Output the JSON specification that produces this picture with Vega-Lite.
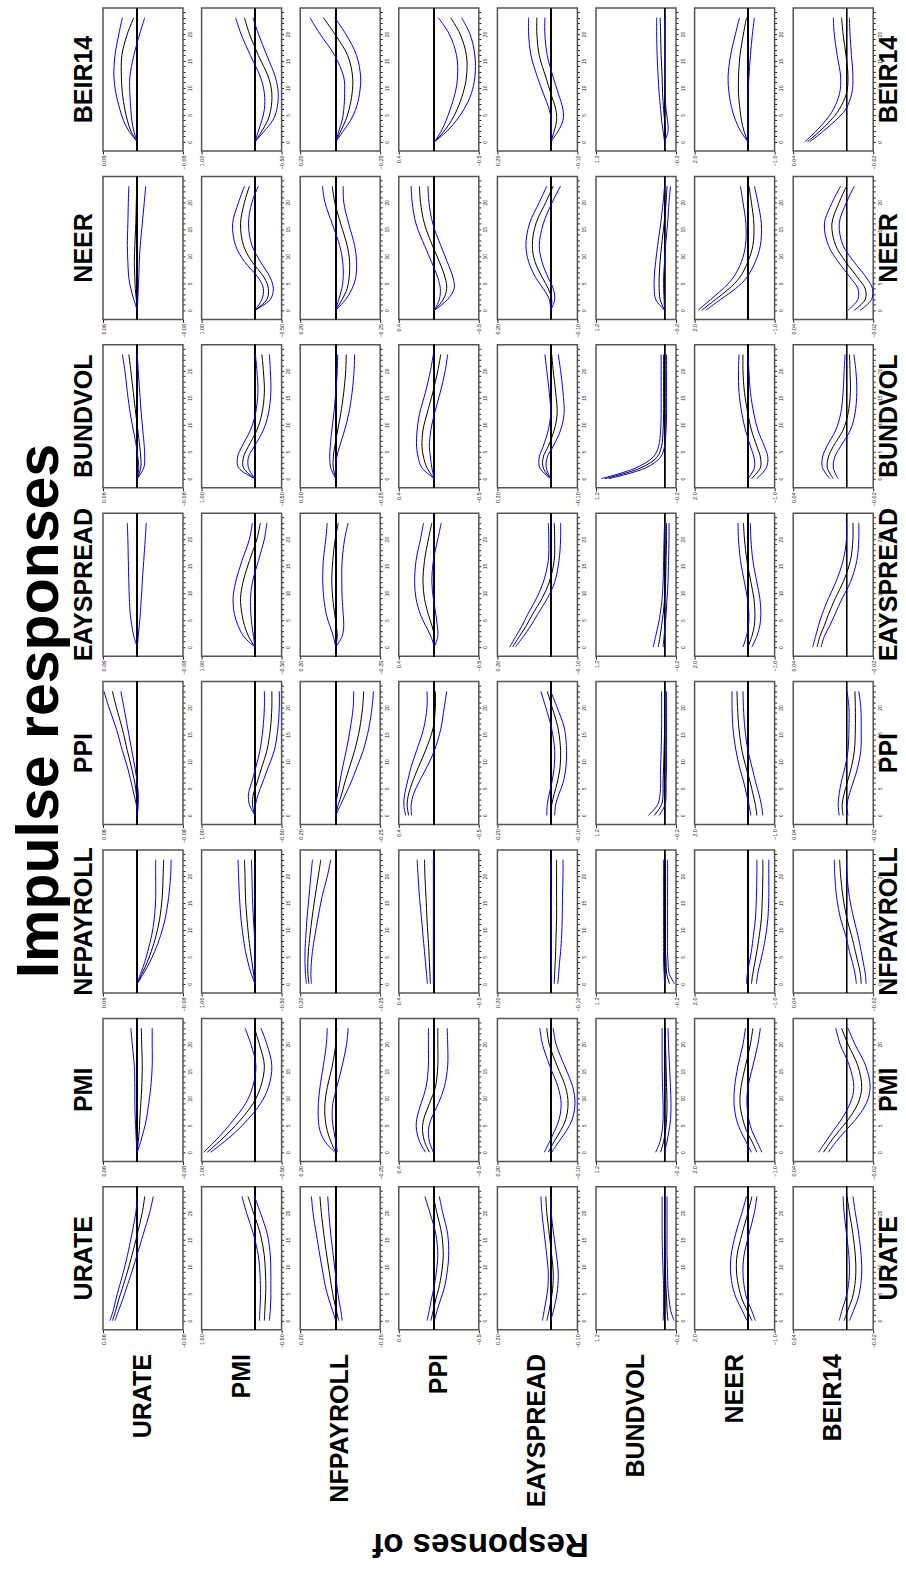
{
  "$schema": "https://vega.github.io/schema/vega-lite/v6.json",
  "padding": {"left": 10, "top": 6, "right": 0, "bottom": 0},
  "config": {
    "font": "Liberation Sans",
    "view": {"stroke": "#555555", "strokeWidth": 1.5},
    "axis": {"labelFont": "Liberation Sans", "labelFontSize": 5.5, "labelColor": "#222222", "tickColor": "#222222", "domain": false, "grid": false, "title": null, "labelOverlap": false, "labelFlush": false, "labelBound": false},
    "header": {"labelFont": "Liberation Sans", "labelFontSize": 25, "labelFontWeight": "bold", "labelColor": "black"}
  },
  "data": {"values": [
    {"s":"BEIR14","r":"URATE","h":0,"m":0,"l":0,"u":0},
    {"s":"BEIR14","r":"URATE","h":2,"m":0.0113,"l":0.0061,"u":0.0148},
    {"s":"BEIR14","r":"URATE","h":4,"m":0.0174,"l":0.0096,"u":0.0244},
    {"s":"BEIR14","r":"URATE","h":6,"m":0.0217,"l":0.0113,"u":0.0304},
    {"s":"BEIR14","r":"URATE","h":9,"m":0.0261,"l":0.0130,"u":0.0374},
    {"s":"BEIR14","r":"URATE","h":12,"m":0.0278,"l":0.0130,"u":0.0409},
    {"s":"BEIR14","r":"URATE","h":16,"m":0.0270,"l":0.0061,"u":0.0391},
    {"s":"BEIR14","r":"URATE","h":20,"m":0.0174,"l":-0.0043,"u":0.0322},
    {"s":"BEIR14","r":"URATE","h":23,"m":0.0061,"l":-0.0130,"u":0.0261},
    {"s":"BEIR14","r":"PMI","h":0,"m":0,"l":0,"u":0},
    {"s":"BEIR14","r":"PMI","h":2,"m":-0.130,"l":-0.177,"u":-0.065},
    {"s":"BEIR14","r":"PMI","h":4,"m":-0.242,"l":-0.335,"u":-0.130},
    {"s":"BEIR14","r":"PMI","h":6,"m":-0.298,"l":-0.410,"u":-0.177},
    {"s":"BEIR14","r":"PMI","h":9,"m":-0.317,"l":-0.438,"u":-0.177},
    {"s":"BEIR14","r":"PMI","h":12,"m":-0.252,"l":-0.382,"u":-0.103},
    {"s":"BEIR14","r":"PMI","h":16,"m":-0.065,"l":-0.224,"u":0.084},
    {"s":"BEIR14","r":"PMI","h":20,"m":0.103,"l":-0.065,"u":0.261},
    {"s":"BEIR14","r":"PMI","h":23,"m":0.196,"l":0.037,"u":0.363},
    {"s":"BEIR14","r":"NFPAYROLL","h":0,"m":0,"l":0,"u":0},
    {"s":"BEIR14","r":"NFPAYROLL","h":2,"m":-0.028,"l":-0.042,"u":-0.017},
    {"s":"BEIR14","r":"NFPAYROLL","h":4,"m":-0.056,"l":-0.084,"u":-0.036},
    {"s":"BEIR14","r":"NFPAYROLL","h":6,"m":-0.075,"l":-0.112,"u":-0.045},
    {"s":"BEIR14","r":"NFPAYROLL","h":9,"m":-0.092,"l":-0.134,"u":-0.050},
    {"s":"BEIR14","r":"NFPAYROLL","h":12,"m":-0.095,"l":-0.140,"u":-0.045},
    {"s":"BEIR14","r":"NFPAYROLL","h":16,"m":-0.067,"l":-0.117,"u":0.006},
    {"s":"BEIR14","r":"NFPAYROLL","h":20,"m":0.006,"l":-0.056,"u":0.089},
    {"s":"BEIR14","r":"NFPAYROLL","h":23,"m":0.070,"l":0.006,"u":0.145},
    {"s":"BEIR14","r":"PPI","h":0,"m":0,"l":0,"u":0},
    {"s":"BEIR14","r":"PPI","h":2,"m":-0.111,"l":-0.144,"u":-0.078},
    {"s":"BEIR14","r":"PPI","h":4,"m":-0.194,"l":-0.250,"u":-0.133},
    {"s":"BEIR14","r":"PPI","h":6,"m":-0.256,"l":-0.333,"u":-0.178},
    {"s":"BEIR14","r":"PPI","h":9,"m":-0.322,"l":-0.417,"u":-0.233},
    {"s":"BEIR14","r":"PPI","h":12,"m":-0.361,"l":-0.456,"u":-0.261},
    {"s":"BEIR14","r":"PPI","h":16,"m":-0.361,"l":-0.456,"u":-0.250},
    {"s":"BEIR14","r":"PPI","h":20,"m":-0.289,"l":-0.400,"u":-0.167},
    {"s":"BEIR14","r":"PPI","h":23,"m":-0.183,"l":-0.306,"u":-0.044},
    {"s":"BEIR14","r":"EAYSPREAD","h":0,"m":0,"l":0,"u":0},
    {"s":"BEIR14","r":"EAYSPREAD","h":2,"m":-0.013,"l":-0.028,"u":-0.002},
    {"s":"BEIR14","r":"EAYSPREAD","h":4,"m":-0.022,"l":-0.046,"u":-0.002},
    {"s":"BEIR14","r":"EAYSPREAD","h":6,"m":-0.019,"l":-0.046,"u":0.0056},
    {"s":"BEIR14","r":"EAYSPREAD","h":9,"m":0,"l":-0.028,"u":0.028},
    {"s":"BEIR14","r":"EAYSPREAD","h":12,"m":0.0185,"l":-0.009,"u":0.050},
    {"s":"BEIR14","r":"EAYSPREAD","h":16,"m":0.043,"l":0.013,"u":0.074},
    {"s":"BEIR14","r":"EAYSPREAD","h":20,"m":0.052,"l":0.022,"u":0.083},
    {"s":"BEIR14","r":"EAYSPREAD","h":23,"m":0.052,"l":0.022,"u":0.083},
    {"s":"BEIR14","r":"BUNDVOL","h":0,"m":0,"l":0,"u":0},
    {"s":"BEIR14","r":"BUNDVOL","h":2,"m":-0.017,"l":-0.060,"u":0.026},
    {"s":"BEIR14","r":"BUNDVOL","h":4,"m":0,"l":-0.052,"u":0.052},
    {"s":"BEIR14","r":"BUNDVOL","h":6,"m":0.017,"l":-0.026,"u":0.069},
    {"s":"BEIR14","r":"BUNDVOL","h":9,"m":0.035,"l":-0.009,"u":0.095},
    {"s":"BEIR14","r":"BUNDVOL","h":12,"m":0.043,"l":0,"u":0.112},
    {"s":"BEIR14","r":"BUNDVOL","h":16,"m":0.060,"l":0,"u":0.130},
    {"s":"BEIR14","r":"BUNDVOL","h":20,"m":0.069,"l":0,"u":0.138},
    {"s":"BEIR14","r":"BUNDVOL","h":23,"m":0.078,"l":0,"u":0.138},
    {"s":"BEIR14","r":"NEER","h":0,"m":0,"l":0,"u":0},
    {"s":"BEIR14","r":"NEER","h":2,"m":0.149,"l":0,"u":0.279},
    {"s":"BEIR14","r":"NEER","h":4,"m":0.242,"l":0,"u":0.466},
    {"s":"BEIR14","r":"NEER","h":6,"m":0.298,"l":0,"u":0.596},
    {"s":"BEIR14","r":"NEER","h":9,"m":0.354,"l":0,"u":0.708},
    {"s":"BEIR14","r":"NEER","h":12,"m":0.354,"l":-0.037,"u":0.745},
    {"s":"BEIR14","r":"NEER","h":16,"m":0.298,"l":-0.093,"u":0.652},
    {"s":"BEIR14","r":"NEER","h":20,"m":0.168,"l":-0.168,"u":0.466},
    {"s":"BEIR14","r":"NEER","h":23,"m":0.056,"l":-0.242,"u":0.317},
    {"s":"BEIR14","r":"BEIR14","h":0,"m":0.0294,"l":0.0276,"u":0.0313},
    {"s":"BEIR14","r":"BEIR14","h":2,"m":0.0199,"l":0.0173,"u":0.0228},
    {"s":"BEIR14","r":"BEIR14","h":4,"m":0.0118,"l":0.0081,"u":0.0155},
    {"s":"BEIR14","r":"BEIR14","h":6,"m":0.0055,"l":0.0007,"u":0.0099},
    {"s":"BEIR14","r":"BEIR14","h":9,"m":0,"l":-0.0040,"u":0.0052},
    {"s":"BEIR14","r":"BEIR14","h":12,"m":-0.0011,"l":-0.0048,"u":0.0044},
    {"s":"BEIR14","r":"BEIR14","h":16,"m":0.0004,"l":-0.0037,"u":0.0070},
    {"s":"BEIR14","r":"BEIR14","h":20,"m":0.0026,"l":-0.0026,"u":0.0092},
    {"s":"BEIR14","r":"BEIR14","h":23,"m":0.0037,"l":-0.0022,"u":0.0099},

    {"s":"NEER","r":"URATE","h":0,"m":0,"l":0,"u":0},
    {"s":"NEER","r":"URATE","h":2,"m":0.0017,"l":-0.0009,"u":0.0061},
    {"s":"NEER","r":"URATE","h":4,"m":0.0035,"l":-0.0017,"u":0.0113},
    {"s":"NEER","r":"URATE","h":6,"m":0.0043,"l":-0.0026,"u":0.0148},
    {"s":"NEER","r":"URATE","h":9,"m":0.0052,"l":-0.0035,"u":0.0165},
    {"s":"NEER","r":"URATE","h":12,"m":0.0043,"l":-0.0052,"u":0.0174},
    {"s":"NEER","r":"URATE","h":16,"m":0.0026,"l":-0.0087,"u":0.0165},
    {"s":"NEER","r":"URATE","h":20,"m":0.0017,"l":-0.0122,"u":0.0157},
    {"s":"NEER","r":"URATE","h":23,"m":0.0009,"l":-0.0148,"u":0.0148},
    {"s":"NEER","r":"PMI","h":0,"m":0,"l":0,"u":0},
    {"s":"NEER","r":"PMI","h":2,"m":-0.224,"l":-0.289,"u":-0.130},
    {"s":"NEER","r":"PMI","h":4,"m":-0.252,"l":-0.345,"u":-0.159},
    {"s":"NEER","r":"PMI","h":6,"m":-0.177,"l":-0.289,"u":-0.065},
    {"s":"NEER","r":"PMI","h":9,"m":0.056,"l":-0.103,"u":0.196},
    {"s":"NEER","r":"PMI","h":12,"m":0.214,"l":0.056,"u":0.363},
    {"s":"NEER","r":"PMI","h":16,"m":0.270,"l":0.121,"u":0.419},
    {"s":"NEER","r":"PMI","h":20,"m":0.196,"l":0.056,"u":0.307},
    {"s":"NEER","r":"PMI","h":23,"m":0.103,"l":-0.065,"u":0.196},
    {"s":"NEER","r":"NFPAYROLL","h":0,"m":0,"l":0,"u":0},
    {"s":"NEER","r":"NFPAYROLL","h":2,"m":-0.036,"l":-0.056,"u":-0.017},
    {"s":"NEER","r":"NFPAYROLL","h":4,"m":-0.064,"l":-0.092,"u":-0.034},
    {"s":"NEER","r":"NFPAYROLL","h":6,"m":-0.075,"l":-0.112,"u":-0.042},
    {"s":"NEER","r":"NFPAYROLL","h":9,"m":-0.078,"l":-0.117,"u":-0.039},
    {"s":"NEER","r":"NFPAYROLL","h":12,"m":-0.064,"l":-0.106,"u":-0.022},
    {"s":"NEER","r":"NFPAYROLL","h":16,"m":-0.028,"l":-0.073,"u":0.0196},
    {"s":"NEER","r":"NFPAYROLL","h":20,"m":0.0056,"l":-0.045,"u":0.061},
    {"s":"NEER","r":"NFPAYROLL","h":23,"m":0.0196,"l":-0.042,"u":0.075},
    {"s":"NEER","r":"PPI","h":0,"m":0,"l":0,"u":0},
    {"s":"NEER","r":"PPI","h":2,"m":-0.100,"l":-0.150,"u":-0.056},
    {"s":"NEER","r":"PPI","h":4,"m":-0.139,"l":-0.222,"u":-0.067},
    {"s":"NEER","r":"PPI","h":6,"m":-0.122,"l":-0.211,"u":-0.039},
    {"s":"NEER","r":"PPI","h":9,"m":-0.056,"l":-0.144,"u":0.033},
    {"s":"NEER","r":"PPI","h":12,"m":0.022,"l":-0.072,"u":0.111},
    {"s":"NEER","r":"PPI","h":16,"m":0.111,"l":0.017,"u":0.206},
    {"s":"NEER","r":"PPI","h":20,"m":0.156,"l":0.061,"u":0.250},
    {"s":"NEER","r":"PPI","h":23,"m":0.167,"l":0.072,"u":0.261},
    {"s":"NEER","r":"EAYSPREAD","h":0,"m":0,"l":0,"u":0},
    {"s":"NEER","r":"EAYSPREAD","h":2,"m":-0.0037,"l":-0.015,"u":0.0056},
    {"s":"NEER","r":"EAYSPREAD","h":4,"m":0.0093,"l":-0.0093,"u":0.028},
    {"s":"NEER","r":"EAYSPREAD","h":6,"m":0.031,"l":0.0093,"u":0.056},
    {"s":"NEER","r":"EAYSPREAD","h":9,"m":0.059,"l":0.033,"u":0.083},
    {"s":"NEER","r":"EAYSPREAD","h":12,"m":0.069,"l":0.043,"u":0.093},
    {"s":"NEER","r":"EAYSPREAD","h":16,"m":0.056,"l":0.028,"u":0.080},
    {"s":"NEER","r":"EAYSPREAD","h":20,"m":0.0185,"l":-0.0056,"u":0.043},
    {"s":"NEER","r":"EAYSPREAD","h":23,"m":-0.0093,"l":-0.037,"u":0.0148},
    {"s":"NEER","r":"BUNDVOL","h":0,"m":0,"l":0,"u":0},
    {"s":"NEER","r":"BUNDVOL","h":2,"m":0.078,"l":0.0086,"u":0.156},
    {"s":"NEER","r":"BUNDVOL","h":4,"m":0.095,"l":0.017,"u":0.181},
    {"s":"NEER","r":"BUNDVOL","h":6,"m":0.095,"l":0.017,"u":0.181},
    {"s":"NEER","r":"BUNDVOL","h":9,"m":0.078,"l":0,"u":0.156},
    {"s":"NEER","r":"BUNDVOL","h":12,"m":0.052,"l":-0.017,"u":0.121},
    {"s":"NEER","r":"BUNDVOL","h":16,"m":0.0086,"l":-0.052,"u":0.069},
    {"s":"NEER","r":"BUNDVOL","h":20,"m":-0.026,"l":-0.078,"u":0.026},
    {"s":"NEER","r":"BUNDVOL","h":23,"m":-0.043,"l":-0.104,"u":0},
    {"s":"NEER","r":"NEER","h":0,"m":1.733,"l":1.584,"u":1.863},
    {"s":"NEER","r":"NEER","h":2,"m":1.211,"l":1.025,"u":1.397},
    {"s":"NEER","r":"NEER","h":4,"m":0.708,"l":0.466,"u":0.931},
    {"s":"NEER","r":"NEER","h":6,"m":0.317,"l":0.056,"u":0.559},
    {"s":"NEER","r":"NEER","h":9,"m":0,"l":-0.279,"u":0.242},
    {"s":"NEER","r":"NEER","h":12,"m":-0.186,"l":-0.466,"u":0.093},
    {"s":"NEER","r":"NEER","h":16,"m":-0.224,"l":-0.503,"u":0.075},
    {"s":"NEER","r":"NEER","h":20,"m":-0.130,"l":-0.373,"u":0.186},
    {"s":"NEER","r":"NEER","h":23,"m":-0.037,"l":-0.242,"u":0.279},
    {"s":"NEER","r":"BEIR14","h":0,"m":-0.0059,"l":-0.0103,"u":-0.0011},
    {"s":"NEER","r":"BEIR14","h":2,"m":-0.0140,"l":-0.0188,"u":-0.0085},
    {"s":"NEER","r":"BEIR14","h":4,"m":-0.0140,"l":-0.0195,"u":-0.0085},
    {"s":"NEER","r":"BEIR14","h":6,"m":-0.0085,"l":-0.0150,"u":-0.0030},
    {"s":"NEER","r":"BEIR14","h":9,"m":0.0007,"l":-0.0055,"u":0.0063},
    {"s":"NEER","r":"BEIR14","h":12,"m":0.0081,"l":0.0026,"u":0.0136},
    {"s":"NEER","r":"BEIR14","h":16,"m":0.0110,"l":0.0055,"u":0.0166},
    {"s":"NEER","r":"BEIR14","h":20,"m":0.0055,"l":0,"u":0.0107},
    {"s":"NEER","r":"BEIR14","h":23,"m":0,"l":-0.0059,"u":0.0044},

    {"s":"BUNDVOL","r":"URATE","h":0,"m":0,"l":0,"u":0},
    {"s":"BUNDVOL","r":"URATE","h":2,"m":-0.0061,"l":-0.0113,"u":-0.0026},
    {"s":"BUNDVOL","r":"URATE","h":4,"m":-0.0061,"l":-0.0130,"u":-0.0009},
    {"s":"BUNDVOL","r":"URATE","h":6,"m":-0.0043,"l":-0.0122,"u":0.0017},
    {"s":"BUNDVOL","r":"URATE","h":9,"m":-0.0009,"l":-0.0096,"u":0.0070},
    {"s":"BUNDVOL","r":"URATE","h":12,"m":0.0026,"l":-0.0070,"u":0.0122},
    {"s":"BUNDVOL","r":"URATE","h":16,"m":0.0070,"l":-0.0043,"u":0.0174},
    {"s":"BUNDVOL","r":"URATE","h":20,"m":0.0113,"l":-0.0017,"u":0.0217},
    {"s":"BUNDVOL","r":"URATE","h":23,"m":0.0148,"l":0,"u":0.0261},
    {"s":"BUNDVOL","r":"PMI","h":0,"m":0,"l":0,"u":0},
    {"s":"BUNDVOL","r":"PMI","h":2,"m":0.214,"l":0.121,"u":0.307},
    {"s":"BUNDVOL","r":"PMI","h":4,"m":0.214,"l":0.121,"u":0.326},
    {"s":"BUNDVOL","r":"PMI","h":6,"m":0.121,"l":0.0093,"u":0.242},
    {"s":"BUNDVOL","r":"PMI","h":9,"m":-0.037,"l":-0.158,"u":0.084},
    {"s":"BUNDVOL","r":"PMI","h":12,"m":-0.130,"l":-0.252,"u":-0.0093},
    {"s":"BUNDVOL","r":"PMI","h":16,"m":-0.177,"l":-0.298,"u":-0.056},
    {"s":"BUNDVOL","r":"PMI","h":20,"m":-0.158,"l":-0.289,"u":-0.037},
    {"s":"BUNDVOL","r":"PMI","h":23,"m":-0.130,"l":-0.270,"u":-0.0093},
    {"s":"BUNDVOL","r":"NFPAYROLL","h":0,"m":0,"l":0,"u":0},
    {"s":"BUNDVOL","r":"NFPAYROLL","h":2,"m":0.014,"l":0,"u":0.028},
    {"s":"BUNDVOL","r":"NFPAYROLL","h":4,"m":0.014,"l":-0.0056,"u":0.034},
    {"s":"BUNDVOL","r":"NFPAYROLL","h":6,"m":0.0056,"l":-0.022,"u":0.031},
    {"s":"BUNDVOL","r":"NFPAYROLL","h":9,"m":-0.011,"l":-0.050,"u":0.022},
    {"s":"BUNDVOL","r":"NFPAYROLL","h":12,"m":-0.028,"l":-0.073,"u":0.011},
    {"s":"BUNDVOL","r":"NFPAYROLL","h":16,"m":-0.045,"l":-0.092,"u":0},
    {"s":"BUNDVOL","r":"NFPAYROLL","h":20,"m":-0.056,"l":-0.103,"u":-0.0084},
    {"s":"BUNDVOL","r":"NFPAYROLL","h":23,"m":-0.059,"l":-0.106,"u":-0.011},
    {"s":"BUNDVOL","r":"PPI","h":0,"m":0,"l":0,"u":0},
    {"s":"BUNDVOL","r":"PPI","h":2,"m":0.083,"l":0.028,"u":0.139},
    {"s":"BUNDVOL","r":"PPI","h":4,"m":0.122,"l":0.044,"u":0.183},
    {"s":"BUNDVOL","r":"PPI","h":6,"m":0.139,"l":0.056,"u":0.200},
    {"s":"BUNDVOL","r":"PPI","h":9,"m":0.128,"l":0.039,"u":0.194},
    {"s":"BUNDVOL","r":"PPI","h":12,"m":0.083,"l":0,"u":0.167},
    {"s":"BUNDVOL","r":"PPI","h":16,"m":0.017,"l":-0.067,"u":0.100},
    {"s":"BUNDVOL","r":"PPI","h":20,"m":-0.039,"l":-0.122,"u":0.044},
    {"s":"BUNDVOL","r":"PPI","h":23,"m":-0.072,"l":-0.150,"u":0.011},
    {"s":"BUNDVOL","r":"EAYSPREAD","h":0,"m":0,"l":0,"u":0},
    {"s":"BUNDVOL","r":"EAYSPREAD","h":2,"m":0.028,"l":0.0167,"u":0.041},
    {"s":"BUNDVOL","r":"EAYSPREAD","h":4,"m":0.028,"l":0.013,"u":0.043},
    {"s":"BUNDVOL","r":"EAYSPREAD","h":6,"m":0.0093,"l":-0.0093,"u":0.028},
    {"s":"BUNDVOL","r":"EAYSPREAD","h":9,"m":-0.013,"l":-0.037,"u":0.0093},
    {"s":"BUNDVOL","r":"EAYSPREAD","h":12,"m":-0.024,"l":-0.050,"u":0},
    {"s":"BUNDVOL","r":"EAYSPREAD","h":16,"m":-0.0185,"l":-0.046,"u":0.0056},
    {"s":"BUNDVOL","r":"EAYSPREAD","h":20,"m":-0.0093,"l":-0.037,"u":0.0148},
    {"s":"BUNDVOL","r":"EAYSPREAD","h":23,"m":-0.0037,"l":-0.028,"u":0.022},
    {"s":"BUNDVOL","r":"BUNDVOL","h":0,"m":1.045,"l":0.976,"u":1.106},
    {"s":"BUNDVOL","r":"BUNDVOL","h":2,"m":0.415,"l":0.328,"u":0.501},
    {"s":"BUNDVOL","r":"BUNDVOL","h":4,"m":0.130,"l":0.069,"u":0.199},
    {"s":"BUNDVOL","r":"BUNDVOL","h":6,"m":0.052,"l":0,"u":0.104},
    {"s":"BUNDVOL","r":"BUNDVOL","h":9,"m":0.026,"l":-0.026,"u":0.069},
    {"s":"BUNDVOL","r":"BUNDVOL","h":12,"m":0.017,"l":-0.035,"u":0.060},
    {"s":"BUNDVOL","r":"BUNDVOL","h":16,"m":0.017,"l":-0.035,"u":0.060},
    {"s":"BUNDVOL","r":"BUNDVOL","h":20,"m":0.017,"l":-0.035,"u":0.060},
    {"s":"BUNDVOL","r":"BUNDVOL","h":23,"m":0.017,"l":-0.035,"u":0.060},
    {"s":"BUNDVOL","r":"NEER","h":0,"m":-0.130,"l":-0.335,"u":0},
    {"s":"BUNDVOL","r":"NEER","h":2,"m":-0.466,"l":-0.689,"u":-0.242},
    {"s":"BUNDVOL","r":"NEER","h":4,"m":-0.466,"l":-0.745,"u":-0.224},
    {"s":"BUNDVOL","r":"NEER","h":6,"m":-0.335,"l":-0.615,"u":-0.093},
    {"s":"BUNDVOL","r":"NEER","h":9,"m":-0.130,"l":-0.373,"u":0.093},
    {"s":"BUNDVOL","r":"NEER","h":12,"m":0,"l":-0.224,"u":0.224},
    {"s":"BUNDVOL","r":"NEER","h":16,"m":0.130,"l":-0.093,"u":0.335},
    {"s":"BUNDVOL","r":"NEER","h":20,"m":0.186,"l":-0.037,"u":0.354},
    {"s":"BUNDVOL","r":"NEER","h":23,"m":0.186,"l":0,"u":0.335},
    {"s":"BUNDVOL","r":"BEIR14","h":0,"m":0.0099,"l":0.0063,"u":0.0125},
    {"s":"BUNDVOL","r":"BEIR14","h":2,"m":0.0144,"l":0.0099,"u":0.0180},
    {"s":"BUNDVOL","r":"BEIR14","h":4,"m":0.0136,"l":0.0088,"u":0.0180},
    {"s":"BUNDVOL","r":"BEIR14","h":6,"m":0.0099,"l":0.0044,"u":0.0147},
    {"s":"BUNDVOL","r":"BEIR14","h":9,"m":0.0026,"l":-0.0029,"u":0.0081},
    {"s":"BUNDVOL","r":"BEIR14","h":12,"m":-0.0011,"l":-0.0063,"u":0.0044},
    {"s":"BUNDVOL","r":"BEIR14","h":16,"m":-0.0029,"l":-0.0077,"u":0.0026},
    {"s":"BUNDVOL","r":"BEIR14","h":20,"m":-0.0026,"l":-0.0070,"u":0.0018},
    {"s":"BUNDVOL","r":"BEIR14","h":23,"m":-0.0022,"l":-0.0055,"u":0.0011},

    {"s":"EAYSPREAD","r":"URATE","h":0,"m":0,"l":0,"u":0},
    {"s":"EAYSPREAD","r":"URATE","h":2,"m":0.0009,"l":-0.0017,"u":0.0061},
    {"s":"EAYSPREAD","r":"URATE","h":4,"m":0.0009,"l":-0.0035,"u":0.0096},
    {"s":"EAYSPREAD","r":"URATE","h":6,"m":0.0009,"l":-0.0052,"u":0.0122},
    {"s":"EAYSPREAD","r":"URATE","h":9,"m":0.0009,"l":-0.0070,"u":0.0139},
    {"s":"EAYSPREAD","r":"URATE","h":12,"m":0.0009,"l":-0.0087,"u":0.0148},
    {"s":"EAYSPREAD","r":"URATE","h":16,"m":0.0009,"l":-0.0113,"u":0.0157},
    {"s":"EAYSPREAD","r":"URATE","h":20,"m":0.0009,"l":-0.0139,"u":0.0165},
    {"s":"EAYSPREAD","r":"URATE","h":23,"m":0.0009,"l":-0.0157,"u":0.0174},
    {"s":"EAYSPREAD","r":"PMI","h":0,"m":0,"l":0,"u":0},
    {"s":"EAYSPREAD","r":"PMI","h":2,"m":0.121,"l":0.028,"u":0.214},
    {"s":"EAYSPREAD","r":"PMI","h":4,"m":0.196,"l":0.056,"u":0.317},
    {"s":"EAYSPREAD","r":"PMI","h":6,"m":0.242,"l":0.075,"u":0.382},
    {"s":"EAYSPREAD","r":"PMI","h":9,"m":0.270,"l":0.084,"u":0.410},
    {"s":"EAYSPREAD","r":"PMI","h":12,"m":0.224,"l":0.047,"u":0.363},
    {"s":"EAYSPREAD","r":"PMI","h":16,"m":0.103,"l":-0.065,"u":0.242},
    {"s":"EAYSPREAD","r":"PMI","h":20,"m":-0.037,"l":-0.177,"u":0.103},
    {"s":"EAYSPREAD","r":"PMI","h":23,"m":-0.103,"l":-0.224,"u":0.047},
    {"s":"EAYSPREAD","r":"NFPAYROLL","h":0,"m":0,"l":0,"u":0},
    {"s":"EAYSPREAD","r":"NFPAYROLL","h":2,"m":-0.0084,"l":-0.036,"u":0.014},
    {"s":"EAYSPREAD","r":"NFPAYROLL","h":4,"m":-0.0028,"l":-0.045,"u":0.034},
    {"s":"EAYSPREAD","r":"NFPAYROLL","h":6,"m":0.0056,"l":-0.042,"u":0.053},
    {"s":"EAYSPREAD","r":"NFPAYROLL","h":9,"m":0.0168,"l":-0.036,"u":0.067},
    {"s":"EAYSPREAD","r":"NFPAYROLL","h":12,"m":0.0224,"l":-0.034,"u":0.073},
    {"s":"EAYSPREAD","r":"NFPAYROLL","h":16,"m":0.0168,"l":-0.036,"u":0.070},
    {"s":"EAYSPREAD","r":"NFPAYROLL","h":20,"m":0.0028,"l":-0.050,"u":0.056},
    {"s":"EAYSPREAD","r":"NFPAYROLL","h":23,"m":-0.014,"l":-0.070,"u":0.048},
    {"s":"EAYSPREAD","r":"PPI","h":0,"m":0,"l":0,"u":0},
    {"s":"EAYSPREAD","r":"PPI","h":2,"m":0,"l":-0.039,"u":0.039},
    {"s":"EAYSPREAD","r":"PPI","h":4,"m":0.028,"l":-0.033,"u":0.100},
    {"s":"EAYSPREAD","r":"PPI","h":6,"m":0.067,"l":-0.017,"u":0.156},
    {"s":"EAYSPREAD","r":"PPI","h":9,"m":0.111,"l":0.011,"u":0.206},
    {"s":"EAYSPREAD","r":"PPI","h":12,"m":0.128,"l":0.028,"u":0.222},
    {"s":"EAYSPREAD","r":"PPI","h":16,"m":0.111,"l":0.011,"u":0.206},
    {"s":"EAYSPREAD","r":"PPI","h":20,"m":0.067,"l":-0.039,"u":0.156},
    {"s":"EAYSPREAD","r":"PPI","h":23,"m":0.028,"l":-0.078,"u":0.122},
    {"s":"EAYSPREAD","r":"EAYSPREAD","h":0,"m":0.143,"l":0.133,"u":0.154},
    {"s":"EAYSPREAD","r":"EAYSPREAD","h":2,"m":0.117,"l":0.102,"u":0.130},
    {"s":"EAYSPREAD","r":"EAYSPREAD","h":4,"m":0.091,"l":0.074,"u":0.107},
    {"s":"EAYSPREAD","r":"EAYSPREAD","h":6,"m":0.069,"l":0.050,"u":0.087},
    {"s":"EAYSPREAD","r":"EAYSPREAD","h":9,"m":0.033,"l":0.013,"u":0.054},
    {"s":"EAYSPREAD","r":"EAYSPREAD","h":12,"m":0.0056,"l":-0.0148,"u":0.028},
    {"s":"EAYSPREAD","r":"EAYSPREAD","h":16,"m":-0.013,"l":-0.031,"u":0.0093},
    {"s":"EAYSPREAD","r":"EAYSPREAD","h":20,"m":-0.0148,"l":-0.037,"u":0.0074},
    {"s":"EAYSPREAD","r":"EAYSPREAD","h":23,"m":-0.013,"l":-0.037,"u":0.0093},
    {"s":"EAYSPREAD","r":"BUNDVOL","h":0,"m":0.112,"l":0.026,"u":0.199},
    {"s":"EAYSPREAD","r":"BUNDVOL","h":2,"m":0.078,"l":0.0086,"u":0.156},
    {"s":"EAYSPREAD","r":"BUNDVOL","h":4,"m":0.052,"l":-0.0086,"u":0.112},
    {"s":"EAYSPREAD","r":"BUNDVOL","h":6,"m":0.026,"l":-0.026,"u":0.078},
    {"s":"EAYSPREAD","r":"BUNDVOL","h":9,"m":0,"l":-0.043,"u":0.043},
    {"s":"EAYSPREAD","r":"BUNDVOL","h":12,"m":-0.017,"l":-0.060,"u":0.026},
    {"s":"EAYSPREAD","r":"BUNDVOL","h":16,"m":-0.026,"l":-0.069,"u":0.017},
    {"s":"EAYSPREAD","r":"BUNDVOL","h":20,"m":-0.035,"l":-0.078,"u":0.0086},
    {"s":"EAYSPREAD","r":"BUNDVOL","h":23,"m":-0.035,"l":-0.078,"u":0},
    {"s":"EAYSPREAD","r":"NEER","h":0,"m":0,"l":-0.149,"u":0.186},
    {"s":"EAYSPREAD","r":"NEER","h":2,"m":-0.149,"l":-0.335,"u":0.056},
    {"s":"EAYSPREAD","r":"NEER","h":4,"m":-0.242,"l":-0.447,"u":-0.0186},
    {"s":"EAYSPREAD","r":"NEER","h":6,"m":-0.261,"l":-0.484,"u":-0.037},
    {"s":"EAYSPREAD","r":"NEER","h":9,"m":-0.224,"l":-0.447,"u":0.0186},
    {"s":"EAYSPREAD","r":"NEER","h":12,"m":-0.112,"l":-0.335,"u":0.130},
    {"s":"EAYSPREAD","r":"NEER","h":16,"m":0.037,"l":-0.186,"u":0.279},
    {"s":"EAYSPREAD","r":"NEER","h":20,"m":0.130,"l":-0.112,"u":0.354},
    {"s":"EAYSPREAD","r":"NEER","h":23,"m":0.168,"l":-0.093,"u":0.373},
    {"s":"EAYSPREAD","r":"BEIR14","h":0,"m":0.0221,"l":0.0191,"u":0.0254},
    {"s":"EAYSPREAD","r":"BEIR14","h":2,"m":0.0199,"l":0.0166,"u":0.0232},
    {"s":"EAYSPREAD","r":"BEIR14","h":4,"m":0.0166,"l":0.0125,"u":0.0210},
    {"s":"EAYSPREAD","r":"BEIR14","h":6,"m":0.0136,"l":0.0088,"u":0.0184},
    {"s":"EAYSPREAD","r":"BEIR14","h":9,"m":0.0085,"l":0.0033,"u":0.0136},
    {"s":"EAYSPREAD","r":"BEIR14","h":12,"m":0.0026,"l":-0.0029,"u":0.0081},
    {"s":"EAYSPREAD","r":"BEIR14","h":16,"m":-0.0029,"l":-0.0077,"u":0.0026},
    {"s":"EAYSPREAD","r":"BEIR14","h":20,"m":-0.0048,"l":-0.0092,"u":0},
    {"s":"EAYSPREAD","r":"BEIR14","h":23,"m":-0.0048,"l":-0.0092,"u":0},

    {"s":"PPI","r":"URATE","h":0,"m":0,"l":0,"u":0},
    {"s":"PPI","r":"URATE","h":2,"m":0,"l":-0.0017,"u":0.0017},
    {"s":"PPI","r":"URATE","h":4,"m":0.0017,"l":-0.0017,"u":0.0061},
    {"s":"PPI","r":"URATE","h":6,"m":0.0043,"l":0,"u":0.0104},
    {"s":"PPI","r":"URATE","h":9,"m":0.0104,"l":0.0043,"u":0.0174},
    {"s":"PPI","r":"URATE","h":12,"m":0.0174,"l":0.0096,"u":0.0261},
    {"s":"PPI","r":"URATE","h":16,"m":0.0261,"l":0.0165,"u":0.0365},
    {"s":"PPI","r":"URATE","h":20,"m":0.0365,"l":0.0235,"u":0.0496},
    {"s":"PPI","r":"URATE","h":23,"m":0.0435,"l":0.0287,"u":0.0583},
    {"s":"PPI","r":"PMI","h":0,"m":0,"l":0,"u":0},
    {"s":"PPI","r":"PMI","h":2,"m":0.047,"l":-0.0093,"u":0.103},
    {"s":"PPI","r":"PMI","h":4,"m":0.028,"l":-0.065,"u":0.121},
    {"s":"PPI","r":"PMI","h":6,"m":-0.037,"l":-0.140,"u":0.065},
    {"s":"PPI","r":"PMI","h":9,"m":-0.130,"l":-0.252,"u":-0.019},
    {"s":"PPI","r":"PMI","h":12,"m":-0.224,"l":-0.363,"u":-0.093},
    {"s":"PPI","r":"PMI","h":16,"m":-0.289,"l":-0.429,"u":-0.149},
    {"s":"PPI","r":"PMI","h":20,"m":-0.317,"l":-0.457,"u":-0.177},
    {"s":"PPI","r":"PMI","h":23,"m":-0.317,"l":-0.457,"u":-0.177},
    {"s":"PPI","r":"NFPAYROLL","h":0,"m":0,"l":0,"u":0},
    {"s":"PPI","r":"NFPAYROLL","h":2,"m":-0.014,"l":-0.028,"u":0},
    {"s":"PPI","r":"NFPAYROLL","h":4,"m":-0.034,"l":-0.056,"u":-0.011},
    {"s":"PPI","r":"NFPAYROLL","h":6,"m":-0.050,"l":-0.084,"u":-0.022},
    {"s":"PPI","r":"NFPAYROLL","h":9,"m":-0.078,"l":-0.120,"u":-0.039},
    {"s":"PPI","r":"NFPAYROLL","h":12,"m":-0.106,"l":-0.154,"u":-0.059},
    {"s":"PPI","r":"NFPAYROLL","h":16,"m":-0.134,"l":-0.185,"u":-0.081},
    {"s":"PPI","r":"NFPAYROLL","h":20,"m":-0.151,"l":-0.204,"u":-0.098},
    {"s":"PPI","r":"NFPAYROLL","h":23,"m":-0.157,"l":-0.212,"u":-0.101},
    {"s":"PPI","r":"PPI","h":0,"m":0.289,"l":0.256,"u":0.322},
    {"s":"PPI","r":"PPI","h":2,"m":0.306,"l":0.261,"u":0.344},
    {"s":"PPI","r":"PPI","h":4,"m":0.289,"l":0.233,"u":0.333},
    {"s":"PPI","r":"PPI","h":6,"m":0.250,"l":0.178,"u":0.306},
    {"s":"PPI","r":"PPI","h":9,"m":0.178,"l":0.083,"u":0.261},
    {"s":"PPI","r":"PPI","h":12,"m":0.100,"l":0,"u":0.200},
    {"s":"PPI","r":"PPI","h":16,"m":0.017,"l":-0.072,"u":0.122},
    {"s":"PPI","r":"PPI","h":20,"m":-0.011,"l":-0.111,"u":0.083},
    {"s":"PPI","r":"PPI","h":23,"m":-0.011,"l":-0.139,"u":0.083},
    {"s":"PPI","r":"EAYSPREAD","h":0,"m":0,"l":-0.0148,"u":0.0148},
    {"s":"PPI","r":"EAYSPREAD","h":2,"m":-0.0037,"l":-0.0185,"u":0.013},
    {"s":"PPI","r":"EAYSPREAD","h":4,"m":-0.013,"l":-0.031,"u":0.0056},
    {"s":"PPI","r":"EAYSPREAD","h":6,"m":-0.024,"l":-0.046,"u":-0.0037},
    {"s":"PPI","r":"EAYSPREAD","h":9,"m":-0.035,"l":-0.057,"u":-0.013},
    {"s":"PPI","r":"EAYSPREAD","h":12,"m":-0.037,"l":-0.059,"u":-0.0148},
    {"s":"PPI","r":"EAYSPREAD","h":16,"m":-0.028,"l":-0.052,"u":-0.0037},
    {"s":"PPI","r":"EAYSPREAD","h":20,"m":-0.0056,"l":-0.024,"u":0.0185},
    {"s":"PPI","r":"EAYSPREAD","h":23,"m":0.013,"l":0,"u":0.037},
    {"s":"PPI","r":"BUNDVOL","h":0,"m":0.181,"l":0.095,"u":0.285},
    {"s":"PPI","r":"BUNDVOL","h":2,"m":0.052,"l":-0.0086,"u":0.121},
    {"s":"PPI","r":"BUNDVOL","h":4,"m":0.026,"l":-0.026,"u":0.078},
    {"s":"PPI","r":"BUNDVOL","h":6,"m":0.026,"l":-0.026,"u":0.069},
    {"s":"PPI","r":"BUNDVOL","h":9,"m":0.017,"l":-0.035,"u":0.069},
    {"s":"PPI","r":"BUNDVOL","h":12,"m":0.0086,"l":-0.035,"u":0.060},
    {"s":"PPI","r":"BUNDVOL","h":16,"m":0,"l":-0.035,"u":0.052},
    {"s":"PPI","r":"BUNDVOL","h":20,"m":0,"l":-0.035,"u":0.052},
    {"s":"PPI","r":"BUNDVOL","h":23,"m":0,"l":-0.035,"u":0.052},
    {"s":"PPI","r":"NEER","h":0,"m":-0.335,"l":-0.559,"u":-0.112},
    {"s":"PPI","r":"NEER","h":2,"m":-0.279,"l":-0.503,"u":-0.037},
    {"s":"PPI","r":"NEER","h":4,"m":-0.186,"l":-0.410,"u":0.056},
    {"s":"PPI","r":"NEER","h":6,"m":-0.093,"l":-0.298,"u":0.149},
    {"s":"PPI","r":"NEER","h":9,"m":0.075,"l":-0.149,"u":0.317},
    {"s":"PPI","r":"NEER","h":12,"m":0.224,"l":0,"u":0.447},
    {"s":"PPI","r":"NEER","h":16,"m":0.335,"l":0.112,"u":0.559},
    {"s":"PPI","r":"NEER","h":20,"m":0.391,"l":0.168,"u":0.596},
    {"s":"PPI","r":"NEER","h":23,"m":0.410,"l":0.186,"u":0.596},
    {"s":"PPI","r":"BEIR14","h":0,"m":0.0026,"l":-0.0011,"u":0.0055},
    {"s":"PPI","r":"BEIR14","h":2,"m":0.0033,"l":-0.0004,"u":0.0063},
    {"s":"PPI","r":"BEIR14","h":4,"m":0.0018,"l":-0.0022,"u":0.0055},
    {"s":"PPI","r":"BEIR14","h":6,"m":-0.0004,"l":-0.0048,"u":0.0041},
    {"s":"PPI","r":"BEIR14","h":9,"m":-0.0037,"l":-0.0085,"u":0.0011},
    {"s":"PPI","r":"BEIR14","h":12,"m":-0.0059,"l":-0.0107,"u":-0.0011},
    {"s":"PPI","r":"BEIR14","h":16,"m":-0.0066,"l":-0.0110,"u":-0.0018},
    {"s":"PPI","r":"BEIR14","h":20,"m":-0.0066,"l":-0.0107,"u":-0.0018},
    {"s":"PPI","r":"BEIR14","h":23,"m":-0.0063,"l":-0.0092,"u":-0.0004},

    {"s":"NFPAYROLL","r":"URATE","h":0,"m":0,"l":0,"u":0},
    {"s":"NFPAYROLL","r":"URATE","h":2,"m":-0.0087,"l":-0.0113,"u":-0.0061},
    {"s":"NFPAYROLL","r":"URATE","h":4,"m":-0.0174,"l":-0.0218,"u":-0.0130},
    {"s":"NFPAYROLL","r":"URATE","h":6,"m":-0.0244,"l":-0.0304,"u":-0.0183},
    {"s":"NFPAYROLL","r":"URATE","h":9,"m":-0.0330,"l":-0.0409,"u":-0.0252},
    {"s":"NFPAYROLL","r":"URATE","h":12,"m":-0.0391,"l":-0.0487,"u":-0.0296},
    {"s":"NFPAYROLL","r":"URATE","h":16,"m":-0.0435,"l":-0.0548,"u":-0.0322},
    {"s":"NFPAYROLL","r":"URATE","h":20,"m":-0.0452,"l":-0.0583,"u":-0.0322},
    {"s":"NFPAYROLL","r":"URATE","h":23,"m":-0.0461,"l":-0.0592,"u":-0.0322},
    {"s":"NFPAYROLL","r":"PMI","h":0,"m":0,"l":0,"u":0},
    {"s":"NFPAYROLL","r":"PMI","h":2,"m":0.028,"l":-0.0093,"u":0.075},
    {"s":"NFPAYROLL","r":"PMI","h":4,"m":0.056,"l":-0.0093,"u":0.130},
    {"s":"NFPAYROLL","r":"PMI","h":6,"m":0.084,"l":0,"u":0.177},
    {"s":"NFPAYROLL","r":"PMI","h":9,"m":0.121,"l":0.0093,"u":0.224},
    {"s":"NFPAYROLL","r":"PMI","h":12,"m":0.149,"l":0.028,"u":0.261},
    {"s":"NFPAYROLL","r":"PMI","h":16,"m":0.177,"l":0.047,"u":0.289},
    {"s":"NFPAYROLL","r":"PMI","h":20,"m":0.186,"l":0.056,"u":0.307},
    {"s":"NFPAYROLL","r":"PMI","h":23,"m":0.196,"l":0.065,"u":0.317},
    {"s":"NFPAYROLL","r":"NFPAYROLL","h":0,"m":0.151,"l":0.137,"u":0.165},
    {"s":"NFPAYROLL","r":"NFPAYROLL","h":2,"m":0.157,"l":0.140,"u":0.171},
    {"s":"NFPAYROLL","r":"NFPAYROLL","h":4,"m":0.157,"l":0.137,"u":0.173},
    {"s":"NFPAYROLL","r":"NFPAYROLL","h":6,"m":0.154,"l":0.131,"u":0.173},
    {"s":"NFPAYROLL","r":"NFPAYROLL","h":9,"m":0.145,"l":0.117,"u":0.168},
    {"s":"NFPAYROLL","r":"NFPAYROLL","h":12,"m":0.134,"l":0.101,"u":0.162},
    {"s":"NFPAYROLL","r":"NFPAYROLL","h":16,"m":0.117,"l":0.078,"u":0.151},
    {"s":"NFPAYROLL","r":"NFPAYROLL","h":20,"m":0.098,"l":0.047,"u":0.140},
    {"s":"NFPAYROLL","r":"NFPAYROLL","h":23,"m":0.084,"l":0.028,"u":0.131},
    {"s":"NFPAYROLL","r":"PPI","h":0,"m":0.044,"l":0.011,"u":0.078},
    {"s":"NFPAYROLL","r":"PPI","h":2,"m":0.050,"l":0.011,"u":0.089},
    {"s":"NFPAYROLL","r":"PPI","h":4,"m":0.056,"l":0.011,"u":0.100},
    {"s":"NFPAYROLL","r":"PPI","h":6,"m":0.061,"l":0.011,"u":0.111},
    {"s":"NFPAYROLL","r":"PPI","h":9,"m":0.072,"l":0.011,"u":0.128},
    {"s":"NFPAYROLL","r":"PPI","h":12,"m":0.083,"l":0.011,"u":0.144},
    {"s":"NFPAYROLL","r":"PPI","h":16,"m":0.094,"l":0.011,"u":0.167},
    {"s":"NFPAYROLL","r":"PPI","h":20,"m":0.106,"l":0.011,"u":0.183},
    {"s":"NFPAYROLL","r":"PPI","h":23,"m":0.111,"l":0.011,"u":0.194},
    {"s":"NFPAYROLL","r":"EAYSPREAD","h":0,"m":-0.013,"l":-0.026,"u":0},
    {"s":"NFPAYROLL","r":"EAYSPREAD","h":2,"m":-0.0148,"l":-0.030,"u":-0.0019},
    {"s":"NFPAYROLL","r":"EAYSPREAD","h":4,"m":-0.0167,"l":-0.033,"u":-0.0019},
    {"s":"NFPAYROLL","r":"EAYSPREAD","h":6,"m":-0.0185,"l":-0.037,"u":-0.0019},
    {"s":"NFPAYROLL","r":"EAYSPREAD","h":9,"m":-0.020,"l":-0.041,"u":-0.0019},
    {"s":"NFPAYROLL","r":"EAYSPREAD","h":12,"m":-0.022,"l":-0.043,"u":-0.0019},
    {"s":"NFPAYROLL","r":"EAYSPREAD","h":16,"m":-0.022,"l":-0.044,"u":-0.0019},
    {"s":"NFPAYROLL","r":"EAYSPREAD","h":20,"m":-0.022,"l":-0.046,"u":0},
    {"s":"NFPAYROLL","r":"EAYSPREAD","h":23,"m":-0.022,"l":-0.046,"u":0},
    {"s":"NFPAYROLL","r":"BUNDVOL","h":0,"m":-0.086,"l":-0.173,"u":0},
    {"s":"NFPAYROLL","r":"BUNDVOL","h":2,"m":-0.035,"l":-0.078,"u":0.0086},
    {"s":"NFPAYROLL","r":"BUNDVOL","h":4,"m":-0.026,"l":-0.060,"u":0.017},
    {"s":"NFPAYROLL","r":"BUNDVOL","h":6,"m":-0.017,"l":-0.052,"u":0.017},
    {"s":"NFPAYROLL","r":"BUNDVOL","h":9,"m":-0.017,"l":-0.052,"u":0.017},
    {"s":"NFPAYROLL","r":"BUNDVOL","h":12,"m":-0.017,"l":-0.052,"u":0.017},
    {"s":"NFPAYROLL","r":"BUNDVOL","h":16,"m":-0.017,"l":-0.052,"u":0.017},
    {"s":"NFPAYROLL","r":"BUNDVOL","h":20,"m":-0.017,"l":-0.052,"u":0.017},
    {"s":"NFPAYROLL","r":"BUNDVOL","h":23,"m":-0.017,"l":-0.052,"u":0.017},
    {"s":"NFPAYROLL","r":"NEER","h":0,"m":-0.130,"l":-0.317,"u":0.056},
    {"s":"NFPAYROLL","r":"NEER","h":2,"m":-0.186,"l":-0.373,"u":0.0186},
    {"s":"NFPAYROLL","r":"NEER","h":4,"m":-0.261,"l":-0.466,"u":-0.056},
    {"s":"NFPAYROLL","r":"NEER","h":6,"m":-0.335,"l":-0.559,"u":-0.130},
    {"s":"NFPAYROLL","r":"NEER","h":9,"m":-0.428,"l":-0.671,"u":-0.205},
    {"s":"NFPAYROLL","r":"NEER","h":12,"m":-0.503,"l":-0.745,"u":-0.279},
    {"s":"NFPAYROLL","r":"NEER","h":16,"m":-0.540,"l":-0.782,"u":-0.317},
    {"s":"NFPAYROLL","r":"NEER","h":20,"m":-0.559,"l":-0.782,"u":-0.335},
    {"s":"NFPAYROLL","r":"NEER","h":23,"m":-0.559,"l":-0.782,"u":-0.335},
    {"s":"NFPAYROLL","r":"BEIR14","h":0,"m":-0.0110,"l":-0.0147,"u":-0.0074},
    {"s":"NFPAYROLL","r":"BEIR14","h":2,"m":-0.0103,"l":-0.0140,"u":-0.0063},
    {"s":"NFPAYROLL","r":"BEIR14","h":4,"m":-0.0085,"l":-0.0125,"u":-0.0044},
    {"s":"NFPAYROLL","r":"BEIR14","h":6,"m":-0.0066,"l":-0.0110,"u":-0.0022},
    {"s":"NFPAYROLL","r":"BEIR14","h":9,"m":-0.0037,"l":-0.0085,"u":0.0007},
    {"s":"NFPAYROLL","r":"BEIR14","h":12,"m":-0.0004,"l":-0.0055,"u":0.0044},
    {"s":"NFPAYROLL","r":"BEIR14","h":16,"m":0.0026,"l":-0.0022,"u":0.0074},
    {"s":"NFPAYROLL","r":"BEIR14","h":20,"m":0.0044,"l":-0.0004,"u":0.0088},
    {"s":"NFPAYROLL","r":"BEIR14","h":23,"m":0.0052,"l":0,"u":0.0092},

    {"s":"PMI","r":"URATE","h":0,"m":0,"l":0,"u":0},
    {"s":"PMI","r":"URATE","h":2,"m":-0.0017,"l":-0.0061,"u":0.0017},
    {"s":"PMI","r":"URATE","h":4,"m":-0.0035,"l":-0.0113,"u":0.0026},
    {"s":"PMI","r":"URATE","h":6,"m":-0.0043,"l":-0.0157,"u":0.0035},
    {"s":"PMI","r":"URATE","h":9,"m":-0.0061,"l":-0.0200,"u":0.0043},
    {"s":"PMI","r":"URATE","h":12,"m":-0.0078,"l":-0.0235,"u":0.0043},
    {"s":"PMI","r":"URATE","h":16,"m":-0.0087,"l":-0.0261,"u":0.0052},
    {"s":"PMI","r":"URATE","h":20,"m":-0.0078,"l":-0.0261,"u":0.0087},
    {"s":"PMI","r":"URATE","h":23,"m":-0.0070,"l":-0.0261,"u":0.0113},
    {"s":"PMI","r":"PMI","h":0,"m":0.895,"l":0.830,"u":0.960},
    {"s":"PMI","r":"PMI","h":2,"m":0.665,"l":0.569,"u":0.755},
    {"s":"PMI","r":"PMI","h":4,"m":0.457,"l":0.335,"u":0.568},
    {"s":"PMI","r":"PMI","h":6,"m":0.270,"l":0.140,"u":0.401},
    {"s":"PMI","r":"PMI","h":9,"m":0.037,"l":-0.103,"u":0.177},
    {"s":"PMI","r":"PMI","h":12,"m":-0.103,"l":-0.252,"u":0.047},
    {"s":"PMI","r":"PMI","h":16,"m":-0.177,"l":-0.317,"u":-0.019},
    {"s":"PMI","r":"PMI","h":20,"m":-0.084,"l":-0.224,"u":0.075},
    {"s":"PMI","r":"PMI","h":23,"m":0.0093,"l":-0.112,"u":0.186},
    {"s":"PMI","r":"NFPAYROLL","h":0,"m":0,"l":-0.0084,"u":0.0056},
    {"s":"PMI","r":"NFPAYROLL","h":2,"m":0.028,"l":0,"u":0.061},
    {"s":"PMI","r":"NFPAYROLL","h":4,"m":0.048,"l":0.011,"u":0.089},
    {"s":"PMI","r":"NFPAYROLL","h":6,"m":0.059,"l":0.0196,"u":0.098},
    {"s":"PMI","r":"NFPAYROLL","h":9,"m":0.061,"l":0.0168,"u":0.098},
    {"s":"PMI","r":"NFPAYROLL","h":12,"m":0.048,"l":-0.0056,"u":0.089},
    {"s":"PMI","r":"NFPAYROLL","h":16,"m":0.0196,"l":-0.036,"u":0.070},
    {"s":"PMI","r":"NFPAYROLL","h":20,"m":0,"l":-0.061,"u":0.053},
    {"s":"PMI","r":"NFPAYROLL","h":23,"m":-0.0056,"l":-0.070,"u":0.048},
    {"s":"PMI","r":"PPI","h":0,"m":0.056,"l":0.011,"u":0.100},
    {"s":"PMI","r":"PPI","h":2,"m":0.111,"l":0.056,"u":0.167},
    {"s":"PMI","r":"PPI","h":4,"m":0.133,"l":0.067,"u":0.200},
    {"s":"PMI","r":"PPI","h":6,"m":0.122,"l":0.039,"u":0.200},
    {"s":"PMI","r":"PPI","h":9,"m":0.056,"l":-0.044,"u":0.150},
    {"s":"PMI","r":"PPI","h":12,"m":-0.011,"l":-0.111,"u":0.094},
    {"s":"PMI","r":"PPI","h":16,"m":-0.039,"l":-0.150,"u":0.067},
    {"s":"PMI","r":"PPI","h":20,"m":-0.039,"l":-0.150,"u":0.067},
    {"s":"PMI","r":"PPI","h":23,"m":-0.039,"l":-0.144,"u":0.067},
    {"s":"PMI","r":"EAYSPREAD","h":0,"m":0.0093,"l":-0.0037,"u":0.024},
    {"s":"PMI","r":"EAYSPREAD","h":2,"m":-0.013,"l":-0.031,"u":0.0037},
    {"s":"PMI","r":"EAYSPREAD","h":4,"m":-0.037,"l":-0.059,"u":-0.0148},
    {"s":"PMI","r":"EAYSPREAD","h":6,"m":-0.056,"l":-0.080,"u":-0.031},
    {"s":"PMI","r":"EAYSPREAD","h":9,"m":-0.065,"l":-0.091,"u":-0.039},
    {"s":"PMI","r":"EAYSPREAD","h":12,"m":-0.056,"l":-0.083,"u":-0.028},
    {"s":"PMI","r":"EAYSPREAD","h":16,"m":-0.024,"l":-0.052,"u":0.0037},
    {"s":"PMI","r":"EAYSPREAD","h":20,"m":0.0056,"l":-0.020,"u":0.031},
    {"s":"PMI","r":"EAYSPREAD","h":23,"m":0.0148,"l":-0.0093,"u":0.041},
    {"s":"PMI","r":"BUNDVOL","h":0,"m":0.069,"l":0,"u":0.156},
    {"s":"PMI","r":"BUNDVOL","h":2,"m":0.017,"l":-0.043,"u":0.078},
    {"s":"PMI","r":"BUNDVOL","h":4,"m":-0.017,"l":-0.078,"u":0.043},
    {"s":"PMI","r":"BUNDVOL","h":6,"m":-0.035,"l":-0.104,"u":0.026},
    {"s":"PMI","r":"BUNDVOL","h":9,"m":-0.043,"l":-0.112,"u":0.026},
    {"s":"PMI","r":"BUNDVOL","h":12,"m":-0.035,"l":-0.104,"u":0.035},
    {"s":"PMI","r":"BUNDVOL","h":16,"m":-0.026,"l":-0.086,"u":0.043},
    {"s":"PMI","r":"BUNDVOL","h":20,"m":-0.017,"l":-0.069,"u":0.043},
    {"s":"PMI","r":"BUNDVOL","h":23,"m":-0.017,"l":-0.060,"u":0.043},
    {"s":"PMI","r":"NEER","h":0,"m":-0.335,"l":-0.522,"u":-0.130},
    {"s":"PMI","r":"NEER","h":2,"m":-0.149,"l":-0.335,"u":0.075},
    {"s":"PMI","r":"NEER","h":4,"m":0.056,"l":-0.149,"u":0.279},
    {"s":"PMI","r":"NEER","h":6,"m":0.186,"l":-0.037,"u":0.428},
    {"s":"PMI","r":"NEER","h":9,"m":0.298,"l":0.037,"u":0.522},
    {"s":"PMI","r":"NEER","h":12,"m":0.261,"l":0,"u":0.503},
    {"s":"PMI","r":"NEER","h":16,"m":0.093,"l":-0.186,"u":0.373},
    {"s":"PMI","r":"NEER","h":20,"m":-0.093,"l":-0.373,"u":0.186},
    {"s":"PMI","r":"NEER","h":23,"m":-0.186,"l":-0.466,"u":0.093},
    {"s":"PMI","r":"BEIR14","h":0,"m":0.0173,"l":0.0136,"u":0.0210},
    {"s":"PMI","r":"BEIR14","h":2,"m":0.0118,"l":0.0077,"u":0.0155},
    {"s":"PMI","r":"BEIR14","h":4,"m":0.0055,"l":0.0007,"u":0.0099},
    {"s":"PMI","r":"BEIR14","h":6,"m":-0.0011,"l":-0.0066,"u":0.0041},
    {"s":"PMI","r":"BEIR14","h":9,"m":-0.0085,"l":-0.0147,"u":-0.0026},
    {"s":"PMI","r":"BEIR14","h":12,"m":-0.0114,"l":-0.0177,"u":-0.0055},
    {"s":"PMI","r":"BEIR14","h":16,"m":-0.0085,"l":-0.0144,"u":-0.0022},
    {"s":"PMI","r":"BEIR14","h":20,"m":-0.0011,"l":-0.0063,"u":0.0048},
    {"s":"PMI","r":"BEIR14","h":23,"m":0.0037,"l":-0.0011,"u":0.0081},

    {"s":"URATE","r":"URATE","h":0,"m":0.0435,"l":0.0391,"u":0.0479},
    {"s":"URATE","r":"URATE","h":2,"m":0.0374,"l":0.0322,"u":0.0417},
    {"s":"URATE","r":"URATE","h":4,"m":0.0322,"l":0.0252,"u":0.0374},
    {"s":"URATE","r":"URATE","h":6,"m":0.0261,"l":0.0191,"u":0.0322},
    {"s":"URATE","r":"URATE","h":9,"m":0.0174,"l":0.0096,"u":0.0244},
    {"s":"URATE","r":"URATE","h":12,"m":0.0096,"l":0.0009,"u":0.0174},
    {"s":"URATE","r":"URATE","h":16,"m":0,"l":-0.0104,"u":0.0096},
    {"s":"URATE","r":"URATE","h":20,"m":-0.0087,"l":-0.0217,"u":0.0026},
    {"s":"URATE","r":"URATE","h":23,"m":-0.0130,"l":-0.0279,"u":0},
    {"s":"URATE","r":"PMI","h":0,"m":-0.177,"l":-0.270,"u":-0.084},
    {"s":"URATE","r":"PMI","h":2,"m":-0.186,"l":-0.289,"u":-0.093},
    {"s":"URATE","r":"PMI","h":4,"m":-0.196,"l":-0.298,"u":-0.103},
    {"s":"URATE","r":"PMI","h":6,"m":-0.205,"l":-0.298,"u":-0.103},
    {"s":"URATE","r":"PMI","h":9,"m":-0.196,"l":-0.298,"u":-0.093},
    {"s":"URATE","r":"PMI","h":12,"m":-0.177,"l":-0.289,"u":-0.065},
    {"s":"URATE","r":"PMI","h":16,"m":-0.103,"l":-0.233,"u":0.028},
    {"s":"URATE","r":"PMI","h":20,"m":0.028,"l":-0.103,"u":0.158},
    {"s":"URATE","r":"PMI","h":23,"m":0.130,"l":0.0093,"u":0.242},
    {"s":"URATE","r":"NFPAYROLL","h":0,"m":-0.0168,"l":-0.0363,"u":0},
    {"s":"URATE","r":"NFPAYROLL","h":2,"m":-0.0028,"l":-0.028,"u":0.0196},
    {"s":"URATE","r":"NFPAYROLL","h":4,"m":0.0112,"l":-0.0168,"u":0.039},
    {"s":"URATE","r":"NFPAYROLL","h":6,"m":0.0224,"l":-0.0084,"u":0.056},
    {"s":"URATE","r":"NFPAYROLL","h":9,"m":0.0363,"l":0.0028,"u":0.073},
    {"s":"URATE","r":"NFPAYROLL","h":12,"m":0.0503,"l":0.014,"u":0.089},
    {"s":"URATE","r":"NFPAYROLL","h":16,"m":0.067,"l":0.028,"u":0.109},
    {"s":"URATE","r":"NFPAYROLL","h":20,"m":0.081,"l":0.039,"u":0.128},
    {"s":"URATE","r":"NFPAYROLL","h":23,"m":0.089,"l":0.045,"u":0.137},
    {"s":"URATE","r":"PPI","h":0,"m":0.039,"l":0,"u":0.083},
    {"s":"URATE","r":"PPI","h":2,"m":0.011,"l":-0.033,"u":0.056},
    {"s":"URATE","r":"PPI","h":4,"m":-0.017,"l":-0.072,"u":0.033},
    {"s":"URATE","r":"PPI","h":6,"m":-0.050,"l":-0.111,"u":0.0056},
    {"s":"URATE","r":"PPI","h":9,"m":-0.083,"l":-0.144,"u":-0.022},
    {"s":"URATE","r":"PPI","h":12,"m":-0.100,"l":-0.161,"u":-0.039},
    {"s":"URATE","r":"PPI","h":16,"m":-0.083,"l":-0.150,"u":-0.017},
    {"s":"URATE","r":"PPI","h":20,"m":-0.028,"l":-0.094,"u":0.050},
    {"s":"URATE","r":"PPI","h":23,"m":0.011,"l":-0.056,"u":0.106},
    {"s":"URATE","r":"EAYSPREAD","h":0,"m":0.0148,"l":0,"u":0.031},
    {"s":"URATE","r":"EAYSPREAD","h":2,"m":0.0056,"l":-0.011,"u":0.024},
    {"s":"URATE","r":"EAYSPREAD","h":4,"m":-0.0019,"l":-0.020,"u":0.0167},
    {"s":"URATE","r":"EAYSPREAD","h":6,"m":-0.0074,"l":-0.026,"u":0.011},
    {"s":"URATE","r":"EAYSPREAD","h":9,"m":-0.0093,"l":-0.028,"u":0.0093},
    {"s":"URATE","r":"EAYSPREAD","h":12,"m":-0.0037,"l":-0.022,"u":0.0148},
    {"s":"URATE","r":"EAYSPREAD","h":16,"m":0.0056,"l":-0.011,"u":0.024},
    {"s":"URATE","r":"EAYSPREAD","h":20,"m":0.0148,"l":-0.0019,"u":0.033},
    {"s":"URATE","r":"EAYSPREAD","h":23,"m":0.0185,"l":0,"u":0.037},
    {"s":"URATE","r":"BUNDVOL","h":0,"m":-0.060,"l":-0.164,"u":0.026},
    {"s":"URATE","r":"BUNDVOL","h":2,"m":-0.043,"l":-0.104,"u":0.017},
    {"s":"URATE","r":"BUNDVOL","h":4,"m":-0.035,"l":-0.078,"u":0.017},
    {"s":"URATE","r":"BUNDVOL","h":6,"m":-0.026,"l":-0.060,"u":0.017},
    {"s":"URATE","r":"BUNDVOL","h":9,"m":-0.017,"l":-0.052,"u":0.026},
    {"s":"URATE","r":"BUNDVOL","h":12,"m":-0.0086,"l":-0.043,"u":0.035},
    {"s":"URATE","r":"BUNDVOL","h":16,"m":0,"l":-0.043,"u":0.043},
    {"s":"URATE","r":"BUNDVOL","h":20,"m":0,"l":-0.043,"u":0.043},
    {"s":"URATE","r":"BUNDVOL","h":23,"m":0,"l":-0.043,"u":0.043},
    {"s":"URATE","r":"NEER","h":0,"m":-0.149,"l":-0.279,"u":0.037},
    {"s":"URATE","r":"NEER","h":2,"m":0.037,"l":-0.130,"u":0.224},
    {"s":"URATE","r":"NEER","h":4,"m":0.224,"l":0.037,"u":0.428},
    {"s":"URATE","r":"NEER","h":6,"m":0.335,"l":0.130,"u":0.559},
    {"s":"URATE","r":"NEER","h":9,"m":0.428,"l":0.186,"u":0.652},
    {"s":"URATE","r":"NEER","h":12,"m":0.410,"l":0.149,"u":0.633},
    {"s":"URATE","r":"NEER","h":16,"m":0.224,"l":-0.037,"u":0.466},
    {"s":"URATE","r":"NEER","h":20,"m":0,"l":-0.242,"u":0.224},
    {"s":"URATE","r":"NEER","h":23,"m":-0.149,"l":-0.335,"u":0.056},
    {"s":"URATE","r":"BEIR14","h":0,"m":0.0018,"l":-0.0022,"u":0.0055},
    {"s":"URATE","r":"BEIR14","h":2,"m":-0.0011,"l":-0.0055,"u":0.0033},
    {"s":"URATE","r":"BEIR14","h":4,"m":-0.0041,"l":-0.0085,"u":0.0007},
    {"s":"URATE","r":"BEIR14","h":6,"m":-0.0059,"l":-0.0103,"u":-0.0011},
    {"s":"URATE","r":"BEIR14","h":9,"m":-0.0070,"l":-0.0114,"u":-0.0022},
    {"s":"URATE","r":"BEIR14","h":12,"m":-0.0066,"l":-0.0110,"u":-0.0018},
    {"s":"URATE","r":"BEIR14","h":16,"m":-0.0048,"l":-0.0092,"u":0},
    {"s":"URATE","r":"BEIR14","h":20,"m":-0.0022,"l":-0.0066,"u":0.0018},
    {"s":"URATE","r":"BEIR14","h":23,"m":-0.0004,"l":-0.0048,"u":0.0026}
  ]},
  "title": {"text": "Responses of", "orient": "bottom", "angle": 180, "fontSize": 33, "fontWeight": "bold", "font": "Liberation Sans", "anchor": "middle", "offset": 53, "dx": -24, "color": "black"},
  "vconcat": [{
    "title": {"text": "Impulse responses", "orient": "left", "fontSize": 59, "fontWeight": "bold", "font": "Liberation Sans", "anchor": "middle", "offset": 2, "dx": 46, "color": "black"},
    "spacing": 5.6,
    "hconcat": [
      {
        "transform": [{"filter": "datum.r == 'URATE'"}, {"fold": ["l", "m", "u"], "as": ["k", "v"]}],
        "facet": {
          "row": {"field": "s", "type": "nominal", "sort": ["BEIR14", "NEER", "BUNDVOL", "EAYSPREAD", "PPI", "NFPAYROLL", "PMI", "URATE"], "header": {"title": null, "labelOrient": "left", "labelAngle": 270, "labelAlign": "center", "labelBaseline": "bottom", "labelPadding": -19}},
          "column": {"field": "r", "type": "nominal", "header": {"title": null, "labelOrient": "bottom", "labelAngle": 270, "labelAlign": "right", "labelBaseline": "middle", "labelPadding": 24}}
        },
        "bounds": "flush",
        "spacing": {"row": 25.4, "column": 0},
        "resolve": {"axis": {"x": "independent", "y": "independent"}},
        "spec": {
          "width": 80, "height": 143,
          "layer": [
            {"mark": {"type": "rule", "color": "black", "strokeWidth": 0.8}, "encoding": {"x": {"datum": 0, "type": "quantitative"}}},
            {"mark": {"type": "line", "strokeWidth": 1, "interpolate": "catmull-rom"},
             "encoding": {
               "x": {"field": "v", "type": "quantitative", "scale": {"domain": [-0.08, 0.06], "reverse": true, "nice": false, "zero": false},
                     "axis": {"values": [-0.08, -0.06, -0.04, -0.02, 0, 0.02, 0.04, 0.06], "format": ".2f", "labelOverlap": false, "labelAngle": 270, "labelAlign": "right", "labelBaseline": "middle", "tickSize": 3, "labelPadding": 1, "minExtent": 14, "maxExtent": 14}},
               "y": {"field": "h", "type": "quantitative", "scale": {"domain": [-1.7, 24.8], "nice": false, "zero": false},
                     "axis": {"orient": "right", "values": [0,1,2,3,4,5,6,7,8,9,10,11,12,13,14,15,16,17,18,19,20,21,22,23,24], "labelExpr": "datum.value % 5 == 0 ? datum.label : ''", "labelFontSize": 5, "labelAngle": 270, "labelAlign": "center", "labelBaseline": "top", "tickSize": 2, "labelPadding": 2, "minExtent": 8, "maxExtent": 8}},
               "color": {"field": "k", "type": "nominal", "scale": {"domain": ["l", "m", "u"], "range": ["#0000ff", "#000000", "#0000ff"]}, "legend": null},
               "order": {"field": "h", "type": "quantitative"}
             }}
          ]
        }
      },
      {
        "transform": [{"filter": "datum.r == 'PMI'"}, {"fold": ["l", "m", "u"], "as": ["k", "v"]}],
        "facet": {
          "row": {"field": "s", "type": "nominal", "sort": ["BEIR14", "NEER", "BUNDVOL", "EAYSPREAD", "PPI", "NFPAYROLL", "PMI", "URATE"], "header": {"title": null, "labels": false}},
          "column": {"field": "r", "type": "nominal", "header": {"title": null, "labelOrient": "bottom", "labelAngle": 270, "labelAlign": "right", "labelBaseline": "middle", "labelPadding": 24}}
        },
        "bounds": "flush",
        "spacing": {"row": 25.4, "column": 0},
        "resolve": {"axis": {"x": "independent", "y": "independent"}},
        "spec": {
          "width": 80, "height": 143,
          "layer": [
            {"mark": {"type": "rule", "color": "black", "strokeWidth": 0.8}, "encoding": {"x": {"datum": 0, "type": "quantitative"}}},
            {"mark": {"type": "line", "strokeWidth": 1, "interpolate": "catmull-rom"},
             "encoding": {
               "x": {"field": "v", "type": "quantitative", "scale": {"domain": [-0.5, 1], "reverse": true, "nice": false, "zero": false},
                     "axis": {"values": [-0.5, -0.25, 0, 0.25, 0.5, 0.75, 1], "format": ".2f", "labelOverlap": false, "labelAngle": 270, "labelAlign": "right", "labelBaseline": "middle", "tickSize": 3, "labelPadding": 1, "minExtent": 14, "maxExtent": 14}},
               "y": {"field": "h", "type": "quantitative", "scale": {"domain": [-1.7, 24.8], "nice": false, "zero": false},
                     "axis": {"orient": "right", "values": [0,1,2,3,4,5,6,7,8,9,10,11,12,13,14,15,16,17,18,19,20,21,22,23,24], "labelExpr": "datum.value % 5 == 0 ? datum.label : ''", "labelFontSize": 5, "labelAngle": 270, "labelAlign": "center", "labelBaseline": "top", "tickSize": 2, "labelPadding": 2, "minExtent": 8, "maxExtent": 8}},
               "color": {"field": "k", "type": "nominal", "scale": {"domain": ["l", "m", "u"], "range": ["#0000ff", "#000000", "#0000ff"]}, "legend": null},
               "order": {"field": "h", "type": "quantitative"}
             }}
          ]
        }
      },
      {
        "transform": [{"filter": "datum.r == 'NFPAYROLL'"}, {"fold": ["l", "m", "u"], "as": ["k", "v"]}],
        "facet": {
          "row": {"field": "s", "type": "nominal", "sort": ["BEIR14", "NEER", "BUNDVOL", "EAYSPREAD", "PPI", "NFPAYROLL", "PMI", "URATE"], "header": {"title": null, "labels": false}},
          "column": {"field": "r", "type": "nominal", "header": {"title": null, "labelOrient": "bottom", "labelAngle": 270, "labelAlign": "right", "labelBaseline": "middle", "labelPadding": 24}}
        },
        "bounds": "flush",
        "spacing": {"row": 25.4, "column": 0},
        "resolve": {"axis": {"x": "independent", "y": "independent"}},
        "spec": {
          "width": 80, "height": 143,
          "layer": [
            {"mark": {"type": "rule", "color": "black", "strokeWidth": 0.8}, "encoding": {"x": {"datum": 0, "type": "quantitative"}}},
            {"mark": {"type": "line", "strokeWidth": 1, "interpolate": "catmull-rom"},
             "encoding": {
               "x": {"field": "v", "type": "quantitative", "scale": {"domain": [-0.25, 0.2], "reverse": true, "nice": false, "zero": false},
                     "axis": {"values": [-0.25, -0.2, -0.15, -0.1, -0.05, 0, 0.05, 0.1, 0.15, 0.2], "format": ".2f", "labelOverlap": false, "labelAngle": 270, "labelAlign": "right", "labelBaseline": "middle", "tickSize": 3, "labelPadding": 1, "minExtent": 14, "maxExtent": 14}},
               "y": {"field": "h", "type": "quantitative", "scale": {"domain": [-1.7, 24.8], "nice": false, "zero": false},
                     "axis": {"orient": "right", "values": [0,1,2,3,4,5,6,7,8,9,10,11,12,13,14,15,16,17,18,19,20,21,22,23,24], "labelExpr": "datum.value % 5 == 0 ? datum.label : ''", "labelFontSize": 5, "labelAngle": 270, "labelAlign": "center", "labelBaseline": "top", "tickSize": 2, "labelPadding": 2, "minExtent": 8, "maxExtent": 8}},
               "color": {"field": "k", "type": "nominal", "scale": {"domain": ["l", "m", "u"], "range": ["#0000ff", "#000000", "#0000ff"]}, "legend": null},
               "order": {"field": "h", "type": "quantitative"}
             }}
          ]
        }
      },
      {
        "transform": [{"filter": "datum.r == 'PPI'"}, {"fold": ["l", "m", "u"], "as": ["k", "v"]}],
        "facet": {
          "row": {"field": "s", "type": "nominal", "sort": ["BEIR14", "NEER", "BUNDVOL", "EAYSPREAD", "PPI", "NFPAYROLL", "PMI", "URATE"], "header": {"title": null, "labels": false}},
          "column": {"field": "r", "type": "nominal", "header": {"title": null, "labelOrient": "bottom", "labelAngle": 270, "labelAlign": "right", "labelBaseline": "middle", "labelPadding": 24}}
        },
        "bounds": "flush",
        "spacing": {"row": 25.4, "column": 0},
        "resolve": {"axis": {"x": "independent", "y": "independent"}},
        "spec": {
          "width": 80, "height": 143,
          "layer": [
            {"mark": {"type": "rule", "color": "black", "strokeWidth": 0.8}, "encoding": {"x": {"datum": 0, "type": "quantitative"}}},
            {"mark": {"type": "line", "strokeWidth": 1, "interpolate": "catmull-rom"},
             "encoding": {
               "x": {"field": "v", "type": "quantitative", "scale": {"domain": [-0.5, 0.4], "reverse": true, "nice": false, "zero": false},
                     "axis": {"values": [-0.5, -0.4, -0.3, -0.2, -0.1, 0, 0.1, 0.2, 0.3, 0.4], "format": ".1f", "labelOverlap": false, "labelAngle": 270, "labelAlign": "right", "labelBaseline": "middle", "tickSize": 3, "labelPadding": 1, "minExtent": 14, "maxExtent": 14}},
               "y": {"field": "h", "type": "quantitative", "scale": {"domain": [-1.7, 24.8], "nice": false, "zero": false},
                     "axis": {"orient": "right", "values": [0,1,2,3,4,5,6,7,8,9,10,11,12,13,14,15,16,17,18,19,20,21,22,23,24], "labelExpr": "datum.value % 5 == 0 ? datum.label : ''", "labelFontSize": 5, "labelAngle": 270, "labelAlign": "center", "labelBaseline": "top", "tickSize": 2, "labelPadding": 2, "minExtent": 8, "maxExtent": 8}},
               "color": {"field": "k", "type": "nominal", "scale": {"domain": ["l", "m", "u"], "range": ["#0000ff", "#000000", "#0000ff"]}, "legend": null},
               "order": {"field": "h", "type": "quantitative"}
             }}
          ]
        }
      },
      {
        "transform": [{"filter": "datum.r == 'EAYSPREAD'"}, {"fold": ["l", "m", "u"], "as": ["k", "v"]}],
        "facet": {
          "row": {"field": "s", "type": "nominal", "sort": ["BEIR14", "NEER", "BUNDVOL", "EAYSPREAD", "PPI", "NFPAYROLL", "PMI", "URATE"], "header": {"title": null, "labels": false}},
          "column": {"field": "r", "type": "nominal", "header": {"title": null, "labelOrient": "bottom", "labelAngle": 270, "labelAlign": "right", "labelBaseline": "middle", "labelPadding": 24}}
        },
        "bounds": "flush",
        "spacing": {"row": 25.4, "column": 0},
        "resolve": {"axis": {"x": "independent", "y": "independent"}},
        "spec": {
          "width": 80, "height": 143,
          "layer": [
            {"mark": {"type": "rule", "color": "black", "strokeWidth": 0.8}, "encoding": {"x": {"datum": 0, "type": "quantitative"}}},
            {"mark": {"type": "line", "strokeWidth": 1, "interpolate": "catmull-rom"},
             "encoding": {
               "x": {"field": "v", "type": "quantitative", "scale": {"domain": [-0.1, 0.2], "reverse": true, "nice": false, "zero": false},
                     "axis": {"values": [-0.1, -0.05, 0, 0.05, 0.1, 0.15, 0.2], "format": ".2f", "labelOverlap": false, "labelAngle": 270, "labelAlign": "right", "labelBaseline": "middle", "tickSize": 3, "labelPadding": 1, "minExtent": 14, "maxExtent": 14}},
               "y": {"field": "h", "type": "quantitative", "scale": {"domain": [-1.7, 24.8], "nice": false, "zero": false},
                     "axis": {"orient": "right", "values": [0,1,2,3,4,5,6,7,8,9,10,11,12,13,14,15,16,17,18,19,20,21,22,23,24], "labelExpr": "datum.value % 5 == 0 ? datum.label : ''", "labelFontSize": 5, "labelAngle": 270, "labelAlign": "center", "labelBaseline": "top", "tickSize": 2, "labelPadding": 2, "minExtent": 8, "maxExtent": 8}},
               "color": {"field": "k", "type": "nominal", "scale": {"domain": ["l", "m", "u"], "range": ["#0000ff", "#000000", "#0000ff"]}, "legend": null},
               "order": {"field": "h", "type": "quantitative"}
             }}
          ]
        }
      },
      {
        "transform": [{"filter": "datum.r == 'BUNDVOL'"}, {"fold": ["l", "m", "u"], "as": ["k", "v"]}],
        "facet": {
          "row": {"field": "s", "type": "nominal", "sort": ["BEIR14", "NEER", "BUNDVOL", "EAYSPREAD", "PPI", "NFPAYROLL", "PMI", "URATE"], "header": {"title": null, "labels": false}},
          "column": {"field": "r", "type": "nominal", "header": {"title": null, "labelOrient": "bottom", "labelAngle": 270, "labelAlign": "right", "labelBaseline": "middle", "labelPadding": 24}}
        },
        "bounds": "flush",
        "spacing": {"row": 25.4, "column": 0},
        "resolve": {"axis": {"x": "independent", "y": "independent"}},
        "spec": {
          "width": 80, "height": 143,
          "layer": [
            {"mark": {"type": "rule", "color": "black", "strokeWidth": 0.8}, "encoding": {"x": {"datum": 0, "type": "quantitative"}}},
            {"mark": {"type": "line", "strokeWidth": 1, "interpolate": "catmull-rom"},
             "encoding": {
               "x": {"field": "v", "type": "quantitative", "scale": {"domain": [-0.2, 1.2], "reverse": true, "nice": false, "zero": false},
                     "axis": {"values": [-0.2, 0, 0.2, 0.4, 0.6, 0.8, 1, 1.2], "format": ".1f", "labelOverlap": false, "labelAngle": 270, "labelAlign": "right", "labelBaseline": "middle", "tickSize": 3, "labelPadding": 1, "minExtent": 14, "maxExtent": 14}},
               "y": {"field": "h", "type": "quantitative", "scale": {"domain": [-1.7, 24.8], "nice": false, "zero": false},
                     "axis": {"orient": "right", "values": [0,1,2,3,4,5,6,7,8,9,10,11,12,13,14,15,16,17,18,19,20,21,22,23,24], "labelExpr": "datum.value % 5 == 0 ? datum.label : ''", "labelFontSize": 5, "labelAngle": 270, "labelAlign": "center", "labelBaseline": "top", "tickSize": 2, "labelPadding": 2, "minExtent": 8, "maxExtent": 8}},
               "color": {"field": "k", "type": "nominal", "scale": {"domain": ["l", "m", "u"], "range": ["#0000ff", "#000000", "#0000ff"]}, "legend": null},
               "order": {"field": "h", "type": "quantitative"}
             }}
          ]
        }
      },
      {
        "transform": [{"filter": "datum.r == 'NEER'"}, {"fold": ["l", "m", "u"], "as": ["k", "v"]}],
        "facet": {
          "row": {"field": "s", "type": "nominal", "sort": ["BEIR14", "NEER", "BUNDVOL", "EAYSPREAD", "PPI", "NFPAYROLL", "PMI", "URATE"], "header": {"title": null, "labels": false}},
          "column": {"field": "r", "type": "nominal", "header": {"title": null, "labelOrient": "bottom", "labelAngle": 270, "labelAlign": "right", "labelBaseline": "middle", "labelPadding": 24}}
        },
        "bounds": "flush",
        "spacing": {"row": 25.4, "column": 0},
        "resolve": {"axis": {"x": "independent", "y": "independent"}},
        "spec": {
          "width": 80, "height": 143,
          "layer": [
            {"mark": {"type": "rule", "color": "black", "strokeWidth": 0.8}, "encoding": {"x": {"datum": 0, "type": "quantitative"}}},
            {"mark": {"type": "line", "strokeWidth": 1, "interpolate": "catmull-rom"},
             "encoding": {
               "x": {"field": "v", "type": "quantitative", "scale": {"domain": [-1, 2], "reverse": true, "nice": false, "zero": false},
                     "axis": {"values": [-1, -0.5, 0, 0.5, 1, 1.5, 2], "format": ".1f", "labelOverlap": false, "labelAngle": 270, "labelAlign": "right", "labelBaseline": "middle", "tickSize": 3, "labelPadding": 1, "minExtent": 14, "maxExtent": 14}},
               "y": {"field": "h", "type": "quantitative", "scale": {"domain": [-1.7, 24.8], "nice": false, "zero": false},
                     "axis": {"orient": "right", "values": [0,1,2,3,4,5,6,7,8,9,10,11,12,13,14,15,16,17,18,19,20,21,22,23,24], "labelExpr": "datum.value % 5 == 0 ? datum.label : ''", "labelFontSize": 5, "labelAngle": 270, "labelAlign": "center", "labelBaseline": "top", "tickSize": 2, "labelPadding": 2, "minExtent": 8, "maxExtent": 8}},
               "color": {"field": "k", "type": "nominal", "scale": {"domain": ["l", "m", "u"], "range": ["#0000ff", "#000000", "#0000ff"]}, "legend": null},
               "order": {"field": "h", "type": "quantitative"}
             }}
          ]
        }
      },
      {
        "transform": [{"filter": "datum.r == 'BEIR14'"}, {"fold": ["l", "m", "u"], "as": ["k", "v"]}],
        "facet": {
          "row": {"field": "s", "type": "nominal", "sort": ["BEIR14", "NEER", "BUNDVOL", "EAYSPREAD", "PPI", "NFPAYROLL", "PMI", "URATE"], "header": {"title": null, "labelOrient": "right", "labelAngle": 270, "labelAlign": "center", "labelBaseline": "top", "labelPadding": -21}},
          "column": {"field": "r", "type": "nominal", "header": {"title": null, "labelOrient": "bottom", "labelAngle": 270, "labelAlign": "right", "labelBaseline": "middle", "labelPadding": 24}}
        },
        "bounds": "flush",
        "spacing": {"row": 25.4, "column": 0},
        "resolve": {"axis": {"x": "independent", "y": "independent"}},
        "spec": {
          "width": 80, "height": 143,
          "layer": [
            {"mark": {"type": "rule", "color": "black", "strokeWidth": 0.8}, "encoding": {"x": {"datum": 0, "type": "quantitative"}}},
            {"mark": {"type": "line", "strokeWidth": 1, "interpolate": "catmull-rom"},
             "encoding": {
               "x": {"field": "v", "type": "quantitative", "scale": {"domain": [-0.02, 0.04], "reverse": true, "nice": false, "zero": false},
                     "axis": {"values": [-0.02, -0.01, 0, 0.01, 0.02, 0.03, 0.04], "format": ".2f", "labelOverlap": false, "labelAngle": 270, "labelAlign": "right", "labelBaseline": "middle", "tickSize": 3, "labelPadding": 1, "minExtent": 14, "maxExtent": 14}},
               "y": {"field": "h", "type": "quantitative", "scale": {"domain": [-1.7, 24.8], "nice": false, "zero": false},
                     "axis": {"orient": "right", "values": [0,1,2,3,4,5,6,7,8,9,10,11,12,13,14,15,16,17,18,19,20,21,22,23,24], "labelExpr": "datum.value % 5 == 0 ? datum.label : ''", "labelFontSize": 5, "labelAngle": 270, "labelAlign": "center", "labelBaseline": "top", "tickSize": 2, "labelPadding": 2, "minExtent": 8, "maxExtent": 8}},
               "color": {"field": "k", "type": "nominal", "scale": {"domain": ["l", "m", "u"], "range": ["#0000ff", "#000000", "#0000ff"]}, "legend": null},
               "order": {"field": "h", "type": "quantitative"}
             }}
          ]
        }
      }
    ]
  }]
}
